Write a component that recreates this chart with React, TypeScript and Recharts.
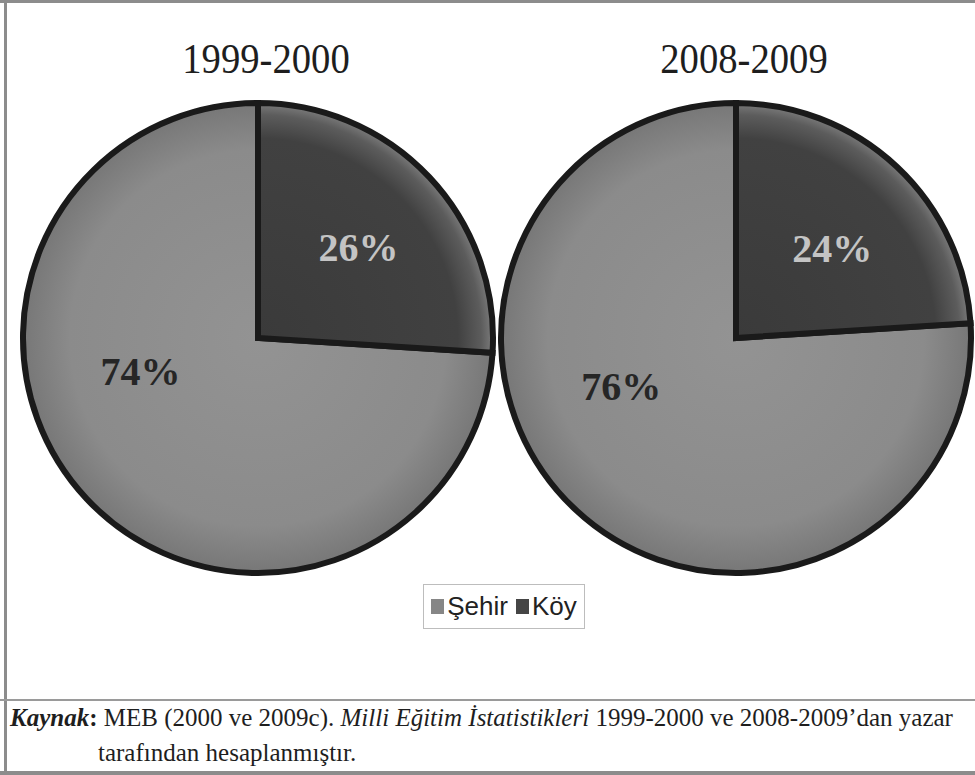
import React from "react";
import { PieChart, Pie, Cell, Legend } from "recharts";

const categories = ["Şehir", "Köy"];
const years = ["1999-2000", "2008-2009"];
const shares1999 = [74, 26];
const shares2008 = [76, 24];

const LEGEND_COLORS = ["#868686", "#454545"];
const LABEL_COLORS = ["#262626", "#c4c4c4"];

// label placement per pie: [angle in degrees, fraction of radius] for Şehir, Köy
const LABEL_SPOTS = [
  [
    [196, 0.52],
    [42, 0.575],
  ],
  [
    [203, 0.53],
    [43, 0.56],
  ],
];

const PIE_CX = [258, 736];
const PIE_CY = 338;
const PIE_R = 235;
const RAD = Math.PI / 180;

const toRows = (vals: number[]) => categories.map((name, i) => ({ name, value: vals[i] }));

function makeLabel(pieIdx: number) {
  return (props: any) => {
    const { cx, cy, outerRadius, index, value } = props;
    const [ang, frac] = LABEL_SPOTS[pieIdx][index];
    const x = cx + Math.cos(ang * RAD) * outerRadius * frac;
    const y = cy - Math.sin(ang * RAD) * outerRadius * frac;
    return (
      <text
        x={x}
        y={y}
        fill={LABEL_COLORS[index]}
        textAnchor="middle"
        dominantBaseline="central"
        fontFamily="'Liberation Serif', 'DejaVu Serif', serif"
        fontWeight={700}
        fontSize={40}
      >
        {`${value}%`}
      </text>
    );
  };
}

function LegendBox() {
  return (
    <div
      style={{
        width: 162,
        height: 45,
        border: "1px solid #bdbdbd",
        boxSizing: "border-box",
        display: "flex",
        alignItems: "center",
        justifyContent: "center",
        gap: 8,
        fontFamily: "'Liberation Sans', Arial, sans-serif",
        fontSize: 26,
        color: "#222",
      }}
    >
      {categories.map((c, i) => (
        <span key={c} style={{ display: "flex", alignItems: "center", gap: 3 }}>
          <span style={{ display: "inline-block", width: 13, height: 15, background: LEGEND_COLORS[i] }} />
          {c}
        </span>
      ))}
    </div>
  );
}

export default function App() {
  const datasets = [toRows(shares1999), toRows(shares2008)];
  return (
    <div
      style={{
        position: "absolute",
        left: 0,
        top: 0,
        width: 975,
        height: 775,
        background: "#fff",
        overflow: "hidden",
        fontFamily: "'Liberation Serif', 'DejaVu Serif', serif",
      }}
    >
      {/* frame lines */}
      <div style={{ position: "absolute", left: 0, top: 0, width: 975, height: 3, background: "#8c8c8c" }} />
      <div style={{ position: "absolute", left: 4, top: 0, width: 3, height: 775, background: "#8c8c8c" }} />
      <div style={{ position: "absolute", left: 0, top: 699, width: 975, height: 2, background: "#9a9a9a" }} />
      <div style={{ position: "absolute", left: 0, top: 771, width: 975, height: 4, background: "#8c8c8c" }} />

      {years.map((y, i) => (
        <div
          key={y}
          style={{
            position: "absolute",
            left: PIE_CX[i] + 8 - 150,
            top: 34,
            width: 300,
            textAlign: "center",
            fontSize: 42,
            color: "#1e1e1e",
            transform: "scaleX(0.92)",
            lineHeight: "50px",
          }}
        >
          {y}
        </div>
      ))}

      <div style={{ position: "absolute", left: 0, top: 0 }}>
        <PieChart width={975} height={700} margin={{ top: 0, right: 0, bottom: 0, left: 0 }}>
          <defs>
            {PIE_CX.map((cx, i) => (
              <React.Fragment key={i}>
                <radialGradient id={`sehirFill${i}`} cx={cx} cy={PIE_CY} r={PIE_R} gradientUnits="userSpaceOnUse">
                  <stop offset="0%" stopColor="#939393" />
                  <stop offset="80%" stopColor="#8b8b8b" />
                  <stop offset="100%" stopColor="#777777" />
                </radialGradient>
                <radialGradient id={`koyFill${i}`} cx={cx} cy={PIE_CY} r={PIE_R} gradientUnits="userSpaceOnUse">
                  <stop offset="0%" stopColor="#3a3a3a" />
                  <stop offset="85%" stopColor="#414141" />
                  <stop offset="95%" stopColor="#5c5c5c" />
                  <stop offset="100%" stopColor="#7c7c7c" />
                </radialGradient>
              </React.Fragment>
            ))}
          </defs>
          {datasets.map((rows, i) => (
            <Pie
              key={years[i]}
              data={rows}
              dataKey="value"
              nameKey="name"
              cx={PIE_CX[i]}
              cy={PIE_CY}
              outerRadius={PIE_R}
              startAngle={-270}
              endAngle={90}
              stroke="#1a1a1a"
              strokeWidth={6}
              labelLine={false}
              label={makeLabel(i)}
              isAnimationActive={false}
            >
              {rows.map((r, j) => (
                <Cell key={r.name} fill={j === 0 ? `url(#sehirFill${i})` : `url(#koyFill${i})`} />
              ))}
            </Pie>
          ))}
          <Legend
            content={() => <LegendBox />}
            wrapperStyle={{ position: "absolute", left: 423, top: 584, width: 162, height: 45 }}
          />
        </PieChart>
      </div>

      <div style={{ position: "absolute", left: 10, top: 700, width: 960, fontSize: 25, lineHeight: "35px", color: "#1e1e1e" }}>
        <div style={{ whiteSpace: "nowrap" }}>
          <b>
            <i>Kaynak</i>:
          </b>{" "}
          MEB (2000 ve 2009c). <i>Milli Eğitim İstatistikleri</i> 1999-2000 ve 2008-2009’dan yazar
        </div>
        <div style={{ paddingLeft: 88 }}>tarafından hesaplanmıştır.</div>
      </div>
    </div>
  );
}
